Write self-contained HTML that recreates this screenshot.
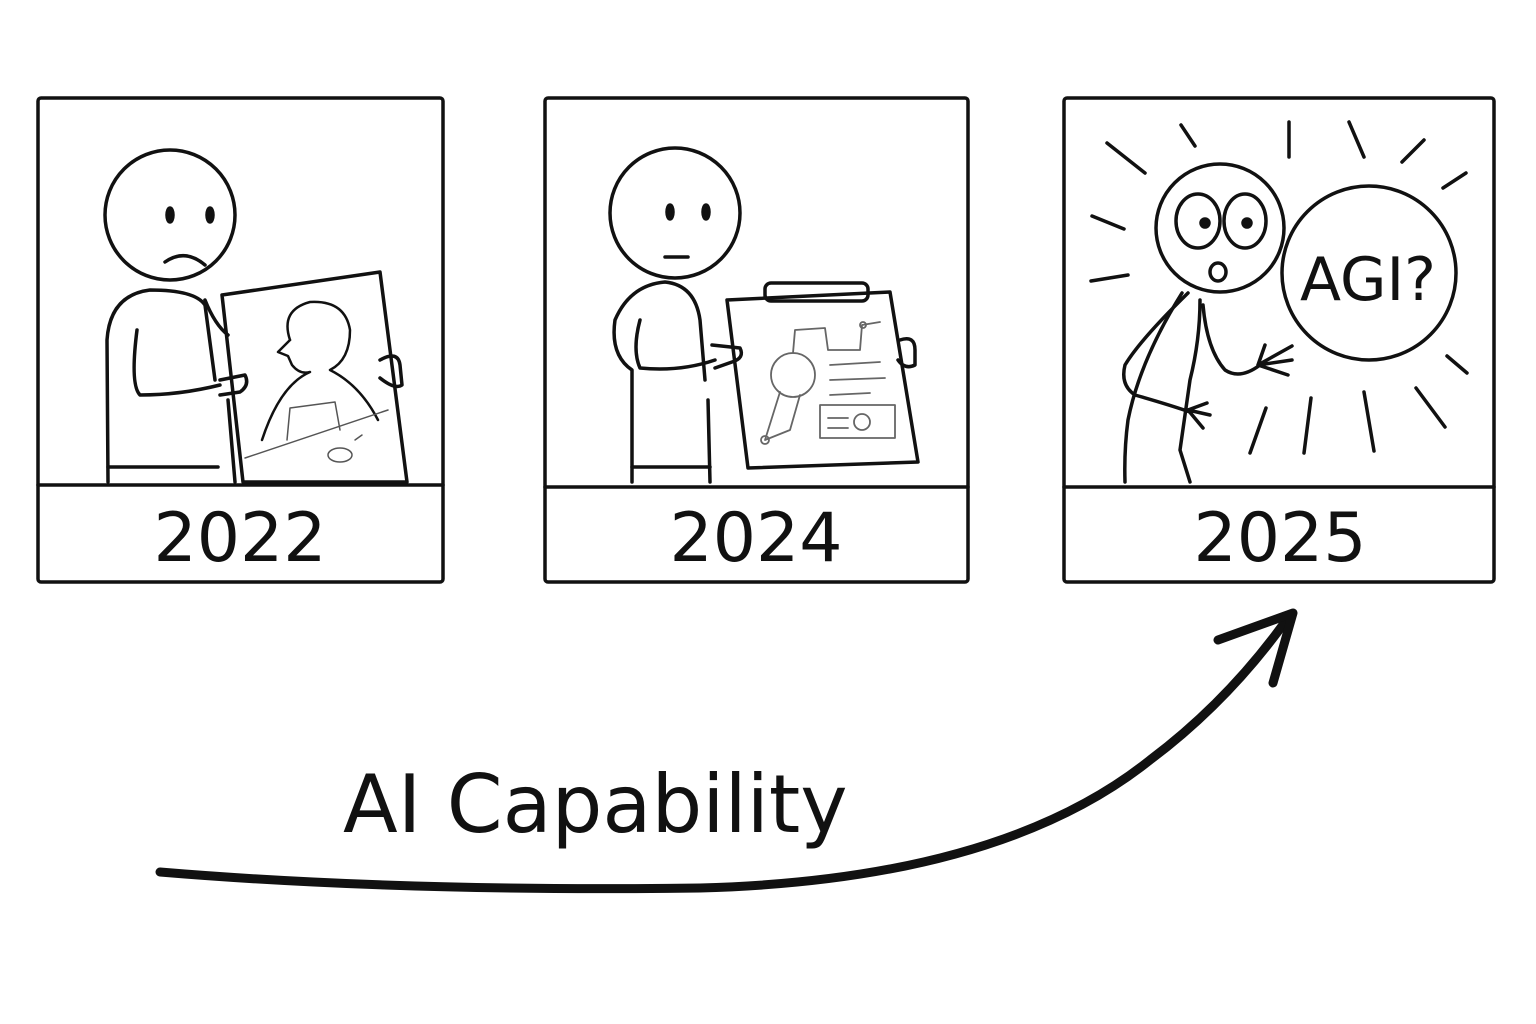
<!DOCTYPE html>
<html><head><style>
html,body{margin:0;padding:0;background:#fff;width:1536px;height:1024px;overflow:hidden}
svg text{font-family:"DejaVu Sans","Liberation Sans",sans-serif;fill:#111}
</style></head><body>
<svg width="1536" height="1024" viewBox="0 0 1536 1024" xmlns="http://www.w3.org/2000/svg" fill="none" stroke="#111" stroke-width="3.5" stroke-linecap="round" stroke-linejoin="round">
<!-- Panels -->
<rect x="38" y="98" width="405" height="484" rx="3"/>
<line x1="38" y1="485" x2="443" y2="485"/>
<rect x="545" y="98" width="423" height="484" rx="3"/>
<line x1="545" y1="487" x2="968" y2="487"/>
<rect x="1064" y="98" width="430" height="484" rx="3"/>
<line x1="1064" y1="487" x2="1494" y2="487"/>
<text x="240" y="561" font-size="68" text-anchor="middle" stroke="none">2022</text>
<text x="756" y="561" font-size="68" text-anchor="middle" stroke="none">2024</text>
<text x="1280" y="561" font-size="68" text-anchor="middle" stroke="none">2025</text>

<!-- Panel 1 figure -->
<circle cx="170" cy="215" r="65"/>
<ellipse cx="170" cy="215" rx="3" ry="7" fill="#111"/>
<ellipse cx="210" cy="215" rx="3" ry="7" fill="#111"/>
<path d="M165 262 Q185 248 205 265"/>
<path d="M108 482 L107 340 Q110 295 150 290 Q195 290 205 305 L215 380"/>
<path d="M108 467 L218 467"/>
<path d="M137 330 Q130 385 140 395 Q180 395 220 385"/>
<path d="M205 300 Q215 325 228 335"/>
<path d="M220 380 L245 375 Q250 385 240 392 L220 395"/>
<path d="M222 295 L380 272 L407 482 L243 482 Z"/>
<line x1="228" y1="400" x2="235" y2="482"/>
<path d="M380 360 Q398 350 400 365 L402 385 Q395 390 380 378"/>
<g stroke-width="2.5">
<path d="M290 340 Q280 310 310 302 Q345 300 350 330 Q350 360 330 370 Q360 385 378 420"/>
<path d="M290 340 L278 352 L288 356 L292 365 Q300 375 310 372 Q280 385 262 440"/>
</g>
<g stroke-width="1.5" stroke="#555">
<path d="M245 458 L388 410"/>
<path d="M287 440 L290 408 L335 402 L340 430"/>
<ellipse cx="340" cy="455" rx="12" ry="7"/>
<path d="M355 440 L362 435"/>
</g>

<!-- Panel 2 figure -->
<circle cx="675" cy="213" r="65"/>
<ellipse cx="670" cy="212" rx="3" ry="7" fill="#111"/>
<ellipse cx="706" cy="212" rx="3" ry="7" fill="#111"/>
<line x1="665" y1="257" x2="688" y2="257"/>
<path d="M632 482 L632 370 Q610 355 615 320 Q630 285 665 282 Q695 285 700 320 L705 380"/>
<path d="M632 467 L710 467"/>
<path d="M640 320 Q632 350 640 368 Q680 372 715 360"/>
<path d="M712 345 L740 348 Q745 358 732 362 L715 368"/>
<path d="M708 400 L710 482"/>
<path d="M727 300 L890 292 L918 462 L748 468 Z"/>
<rect x="765" y="283" width="103" height="18" rx="6"/>
<path d="M900 340 Q915 335 915 350 L915 365 Q905 370 898 360"/>
<g stroke-width="1.8" stroke="#666">
<circle cx="793" cy="375" r="22"/>
<path d="M780 392 L765 440 L790 430 L800 395"/>
<circle cx="765" cy="440" r="4"/>
<path d="M793 353 L795 330 L825 328 L828 350 L860 350 L862 325 L880 322"/>
<circle cx="863" cy="325" r="3"/>
<path d="M830 365 L880 362 M830 380 L885 378 M830 395 L870 393"/>
<rect x="820" y="405" width="75" height="33"/>
<circle cx="862" cy="422" r="8"/>
<path d="M828 418 L848 418 M828 428 L848 428"/>
</g>

<!-- Panel 3 figure -->
<g stroke-width="3.5">
<line x1="1107" y1="143" x2="1145" y2="173"/>
<line x1="1181" y1="125" x2="1195" y2="146"/>
<line x1="1289" y1="122" x2="1289" y2="157"/>
<line x1="1349" y1="122" x2="1364" y2="157"/>
<line x1="1402" y1="162" x2="1424" y2="140"/>
<line x1="1443" y1="188" x2="1466" y2="173"/>
<line x1="1092" y1="216" x2="1124" y2="229"/>
<line x1="1091" y1="281" x2="1128" y2="275"/>
<line x1="1447" y1="356" x2="1467" y2="373"/>
<line x1="1416" y1="388" x2="1445" y2="427"/>
<line x1="1364" y1="392" x2="1374" y2="451"/>
<line x1="1311" y1="398" x2="1304" y2="453"/>
<line x1="1266" y1="408" x2="1250" y2="453"/>
</g>
<circle cx="1220" cy="228" r="64"/>
<ellipse cx="1198" cy="221" rx="22" ry="27"/>
<ellipse cx="1245" cy="221" rx="21" ry="27"/>
<circle cx="1205" cy="223" r="4" fill="#111"/>
<circle cx="1247" cy="223" r="4" fill="#111"/>
<ellipse cx="1218" cy="272" rx="8" ry="9"/>
<circle cx="1369" cy="273" r="87"/>
<text x="1368" y="300" font-size="60" text-anchor="middle" stroke="none" font-family="Liberation Sans">AGI?</text>
<path d="M1188 293 Q1140 340 1125 365 Q1120 385 1135 395 Q1170 405 1190 412"/>
<path d="M1182 293 Q1140 360 1128 420 Q1124 450 1125 482"/>
<path d="M1200 300 Q1200 340 1190 380 L1180 450 L1190 482"/>
<path d="M1203 305 Q1207 350 1225 370 Q1240 380 1260 365"/>
<path d="M1258 365 L1265 345 M1258 365 L1292 346 M1258 365 L1292 360 M1258 365 L1288 375"/>
<path d="M1188 410 L1207 403 M1188 410 L1210 415 M1188 410 L1203 428"/>

<!-- Arrow -->
<path d="M160 872 Q400 892 700 888 Q1000 880 1150 760 Q1230 700 1290 615" stroke-width="9"/>
<path d="M1218 640 L1293 613 L1273 683" stroke-width="9"/>
<text x="343" y="832" font-size="80" stroke="none">AI Capability</text>
</svg>
</body></html>
